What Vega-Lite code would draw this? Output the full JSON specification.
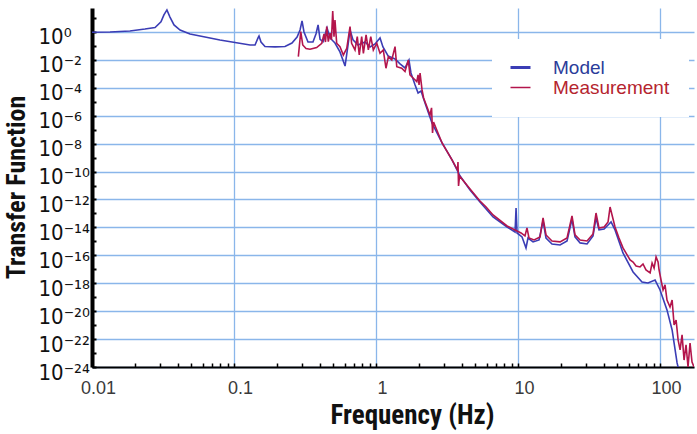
{
  "$schema": "https://vega.github.io/schema/vega-lite/v6.json",
  "width": 602,
  "height": 359,
  "autosize": "none",
  "padding": {"left": 92, "top": 8, "right": 3, "bottom": 67},
  "background": "white",
  "config": {"view": {"stroke": null}},
  "datasets": {
    "model": [
      {"f":0.01,"h":0.955,"s":"Model"},{"f":0.0134,"h":1.0,"s":"Model"},{"f":0.0185,"h":1.175,"s":"Model"},{"f":0.0236,"h":1.62,"s":"Model"},{"f":0.0278,"h":2.09,"s":"Model"},{"f":0.0306,"h":5.25,"s":"Model"},{"f":0.0321,"h":16.6,"s":"Model"},{"f":0.0337,"h":38,"s":"Model"},{"f":0.0354,"h":11.7,"s":"Model"},{"f":0.0378,"h":3.16,"s":"Model"},{"f":0.0417,"h":1.38,"s":"Model"},{"f":0.049,"h":0.724,"s":"Model"},{"f":0.0625,"h":0.437,"s":"Model"},{"f":0.0796,"h":0.269,"s":"Model"},{"f":0.1016,"h":0.178,"s":"Model"},{"f":0.1297,"h":0.117,"s":"Model"},{"f":0.1406,"h":0.117,"s":"Model"},{"f":0.1476,"h":0.372,"s":"Model"},{"f":0.15,"h":0.513,"s":"Model"},{"f":0.1549,"h":0.191,"s":"Model"},{"f":0.1652,"h":0.0912,"s":"Model"},{"f":0.1945,"h":0.0851,"s":"Model"},{"f":0.2286,"h":0.0912,"s":"Model"},{"f":0.2559,"h":0.162,"s":"Model"},{"f":0.278,"h":0.437,"s":"Model"},{"f":0.2917,"h":1.38,"s":"Model"},{"f":0.3013,"h":6.17,"s":"Model"},{"f":0.311,"h":1.0,"s":"Model"},{"f":0.3319,"h":0.19,"s":"Model"},{"f":0.3597,"h":0.19,"s":"Model"},{"f":0.3776,"h":0.724,"s":"Model"},{"f":0.3908,"h":3.16,"s":"Model"},{"f":0.4036,"h":0.3,"s":"Model"},{"f":0.4236,"h":0.2,"s":"Model"},{"f":0.4519,"h":1.95,"s":"Model"},{"f":0.4742,"h":0.372,"s":"Model"},{"f":0.514,"h":0.162,"s":"Model"},{"f":0.5572,"h":0.0372,"s":"Model"},{"f":0.6053,"h":0.00363,"s":"Model"},{"f":0.6353,"h":0.117,"s":"Model"},{"f":0.6561,"h":1.38,"s":"Model"},{"f":0.6887,"h":0.269,"s":"Model"},{"f":0.7464,"h":0.117,"s":"Model"},{"f":0.8375,"h":0.191,"s":"Model"},{"f":0.908,"h":0.0851,"s":"Model"},{"f":0.984,"h":0.138,"s":"Model"},{"f":1.067,"h":0.372,"s":"Model"},{"f":1.119,"h":0.0851,"s":"Model"},{"f":1.216,"h":0.0191,"s":"Model"},{"f":1.361,"h":0.01175,"s":"Model"},{"f":1.476,"h":0.00513,"s":"Model"},{"f":1.6,"h":0.00263,"s":"Model"},{"f":1.706,"h":0.00977,"s":"Model"},{"f":1.762,"h":0.00115,"s":"Model"},{"f":1.884,"h":1.58e-4,"s":"Model"},{"f":1.977,"h":4.27e-5,"s":"Model"},{"f":2.075,"h":5.89e-5,"s":"Model"},{"f":2.213,"h":8.13e-6,"s":"Model"},{"f":2.477,"h":3.02e-7,"s":"Model"},{"f":2.917,"h":1.12e-8,"s":"Model"},{"f":3.428,"h":6.76e-10,"s":"Model"},{"f":3.908,"h":4.79e-11,"s":"Model"},{"f":4.592,"h":4.79e-12,"s":"Model"},{"f":5.395,"h":6.61e-13,"s":"Model"},{"f":6.668,"h":5.62e-14,"s":"Model"},{"f":8.375,"h":1.07e-14,"s":"Model"},{"f":9.528,"h":4.68e-15,"s":"Model"},{"f":9.683,"h":2.45e-13,"s":"Model"},{"f":9.84,"h":3.98e-15,"s":"Model"},{"f":10.67,"h":2.09e-15,"s":"Model"},{"f":11.38,"h":3.39e-16,"s":"Model"},{"f":11.75,"h":1.74e-15,"s":"Model"},{"f":12.76,"h":9.12e-16,"s":"Model"},{"f":14.06,"h":1.26e-15,"s":"Model"},{"f":15.0,"h":2.88e-14,"s":"Model"},{"f":15.74,"h":1.74e-15,"s":"Model"},{"f":17.34,"h":6.46e-16,"s":"Model"},{"f":19.77,"h":5.5e-16,"s":"Model"},{"f":22.13,"h":1.07e-15,"s":"Model"},{"f":23.99,"h":3.98e-14,"s":"Model"},{"f":25.18,"h":2.09e-15,"s":"Model"},{"f":27.35,"h":7.76e-16,"s":"Model"},{"f":30.62,"h":6.46e-16,"s":"Model"},{"f":33.73,"h":2.45e-15,"s":"Model"},{"f":35.4,"h":4.79e-14,"s":"Model"},{"f":37.15,"h":6.61e-15,"s":"Model"},{"f":40.36,"h":7.76e-15,"s":"Model"},{"f":43.05,"h":1.48e-14,"s":"Model"},{"f":45.19,"h":2.45e-14,"s":"Model"},{"f":48.19,"h":6.61e-15,"s":"Model"},{"f":54.83,"h":1.48e-16,"s":"Model"},{"f":64.57,"h":6.46e-18,"s":"Model"},{"f":74.65,"h":1.23e-18,"s":"Model"},{"f":82.22,"h":1.05e-18,"s":"Model"},{"f":92.26,"h":1.7e-18,"s":"Model"},{"f":100,"h":3.31e-19,"s":"Model"},{"f":111.9,"h":1.23e-20,"s":"Model"},{"f":121.6,"h":4.47e-22,"s":"Model"},{"f":131.8,"h":1.95e-24,"s":"Model"},{"f":138.4,"h":2.69e-25,"s":"Model"}
    ],
    "meas": [
      {"f":0.2838,"h":0.017,"s":"Measurement"},{"f":0.2951,"h":1.047,"s":"Measurement"},{"f":0.3048,"h":0.117,"s":"Measurement"},{"f":0.3214,"h":0.0661,"s":"Measurement"},{"f":0.3428,"h":0.0575,"s":"Measurement"},{"f":0.3819,"h":0.0759,"s":"Measurement"},{"f":0.415,"h":0.155,"s":"Measurement"},{"f":0.4305,"h":0.724,"s":"Measurement"},{"f":0.4406,"h":0.191,"s":"Measurement"},{"f":0.4498,"h":2.4,"s":"Measurement"},{"f":0.4613,"h":0.204,"s":"Measurement"},{"f":0.4742,"h":0.813,"s":"Measurement"},{"f":0.4853,"h":0.269,"s":"Measurement"},{"f":0.4955,"h":31.6,"s":"Measurement"},{"f":0.5058,"h":0.457,"s":"Measurement"},{"f":0.514,"h":7.24,"s":"Measurement"},{"f":0.5284,"h":0.155,"s":"Measurement"},{"f":0.5572,"h":0.0891,"s":"Measurement"},{"f":0.5888,"h":0.0224,"s":"Measurement"},{"f":0.6223,"h":0.0676,"s":"Measurement"},{"f":0.6561,"h":2.4,"s":"Measurement"},{"f":0.673,"h":0.155,"s":"Measurement"},{"f":0.7112,"h":0.0513,"s":"Measurement"},{"f":0.7379,"h":0.457,"s":"Measurement"},{"f":0.7621,"h":0.0224,"s":"Measurement"},{"f":0.7925,"h":0.457,"s":"Measurement"},{"f":0.8147,"h":0.0295,"s":"Measurement"},{"f":0.8511,"h":0.617,"s":"Measurement"},{"f":0.8831,"h":0.0513,"s":"Measurement"},{"f":0.9183,"h":0.457,"s":"Measurement"},{"f":0.9572,"h":0.0513,"s":"Measurement"},{"f":1.012,"h":0.155,"s":"Measurement"},{"f":1.067,"h":0.0295,"s":"Measurement"},{"f":1.125,"h":0.0513,"s":"Measurement"},{"f":1.175,"h":0.00251,"s":"Measurement"},{"f":1.222,"h":0.017,"s":"Measurement"},{"f":1.291,"h":0.00977,"s":"Measurement"},{"f":1.361,"h":0.0891,"s":"Measurement"},{"f":1.4,"h":0.00324,"s":"Measurement"},{"f":1.517,"h":0.00251,"s":"Measurement"},{"f":1.6,"h":0.00145,"s":"Measurement"},{"f":1.687,"h":0.00977,"s":"Measurement"},{"f":1.734,"h":8.32e-4,"s":"Measurement"},{"f":1.832,"h":4.79e-4,"s":"Measurement"},{"f":1.936,"h":2.75e-4,"s":"Measurement"},{"f":1.977,"h":8.32e-4,"s":"Measurement"},{"f":2.009,"h":1.58e-4,"s":"Measurement"},{"f":2.042,"h":1.15e-3,"s":"Measurement"},{"f":2.109,"h":7.08e-5,"s":"Measurement"},{"f":2.163,"h":1.86e-5,"s":"Measurement"},{"f":2.286,"h":4.27e-6,"s":"Measurement"},{"f":2.399,"h":1.12e-6,"s":"Measurement"},{"f":2.46,"h":3.63e-6,"s":"Measurement"},{"f":2.5,"h":5.89e-8,"s":"Measurement"},{"f":2.541,"h":3.55e-7,"s":"Measurement"},{"f":2.917,"h":1.12e-8,"s":"Measurement"},{"f":3.428,"h":6.76e-10,"s":"Measurement"},{"f":3.75,"h":1.29e-10,"s":"Measurement"},{"f":3.776,"h":4.9e-10,"s":"Measurement"},{"f":3.811,"h":9.33e-12,"s":"Measurement"},{"f":3.873,"h":4.79e-11,"s":"Measurement"},{"f":4.592,"h":5.62e-12,"s":"Measurement"},{"f":5.395,"h":7.76e-13,"s":"Measurement"},{"f":5.957,"h":2.88e-13,"s":"Measurement"},{"f":6.668,"h":7.76e-14,"s":"Measurement"},{"f":8.375,"h":1.26e-14,"s":"Measurement"},{"f":9.528,"h":6.61e-15,"s":"Measurement"},{"f":10.5,"h":3.98e-15,"s":"Measurement"},{"f":11.19,"h":2.45e-15,"s":"Measurement"},{"f":11.56,"h":9.12e-15,"s":"Measurement"},{"f":11.94,"h":1.74e-15,"s":"Measurement"},{"f":12.97,"h":1.26e-15,"s":"Measurement"},{"f":14.29,"h":2.09e-15,"s":"Measurement"},{"f":15.0,"h":4.79e-14,"s":"Measurement"},{"f":15.74,"h":2.88e-15,"s":"Measurement"},{"f":17.34,"h":1.07e-15,"s":"Measurement"},{"f":19.77,"h":9.12e-16,"s":"Measurement"},{"f":22.13,"h":1.74e-15,"s":"Measurement"},{"f":23.99,"h":6.61e-14,"s":"Measurement"},{"f":25.18,"h":2.88e-15,"s":"Measurement"},{"f":27.35,"h":1.26e-15,"s":"Measurement"},{"f":30.62,"h":1.07e-15,"s":"Measurement"},{"f":33.73,"h":3.39e-15,"s":"Measurement"},{"f":35.4,"h":1.07e-13,"s":"Measurement"},{"f":37.15,"h":9.12e-15,"s":"Measurement"},{"f":40.36,"h":1.07e-14,"s":"Measurement"},{"f":43.05,"h":2.45e-14,"s":"Measurement"},{"f":44.46,"h":2.88e-13,"s":"Measurement"},{"f":45.92,"h":7.76e-14,"s":"Measurement"},{"f":48.19,"h":1.07e-14,"s":"Measurement"},{"f":51.4,"h":1.74e-15,"s":"Measurement"},{"f":54.83,"h":3.39e-16,"s":"Measurement"},{"f":58.61,"h":1.07e-16,"s":"Measurement"},{"f":61.52,"h":4.68e-17,"s":"Measurement"},{"f":64.57,"h":3.31e-17,"s":"Measurement"},{"f":67.76,"h":1.74e-17,"s":"Measurement"},{"f":72.28,"h":1.48e-17,"s":"Measurement"},{"f":75.86,"h":2.4e-17,"s":"Measurement"},{"f":79.62,"h":8.91e-18,"s":"Measurement"},{"f":85.11,"h":5.5e-18,"s":"Measurement"},{"f":87.9,"h":2.82e-17,"s":"Measurement"},{"f":90.78,"h":1.23e-17,"s":"Measurement"},{"f":93.76,"h":7.59e-17,"s":"Measurement"},{"f":96.83,"h":3.31e-17,"s":"Measurement"},{"f":98.4,"h":8.91e-18,"s":"Measurement"},{"f":101.6,"h":1.7e-18,"s":"Measurement"},{"f":105.0,"h":3.31e-19,"s":"Measurement"},{"f":108.4,"h":7.59e-19,"s":"Measurement"},{"f":111.9,"h":6.31e-20,"s":"Measurement"},{"f":117.5,"h":2e-20,"s":"Measurement"},{"f":121.6,"h":6.31e-20,"s":"Measurement"},{"f":125.6,"h":1.02e-21,"s":"Measurement"},{"f":129.7,"h":2.34e-21,"s":"Measurement"},{"f":134.0,"h":8.71e-23,"s":"Measurement"},{"f":138.4,"h":1.66e-23,"s":"Measurement"},{"f":142.9,"h":2e-22,"s":"Measurement"},{"f":147.6,"h":3.16e-24,"s":"Measurement"},{"f":152.4,"h":3.8e-23,"s":"Measurement"},{"f":157.4,"h":1e-24,"s":"Measurement"},{"f":162.6,"h":5.25e-23,"s":"Measurement"},{"f":167.9,"h":2.29e-24,"s":"Measurement"},{"f":173.4,"h":1e-24,"s":"Measurement"}
    ]
  },
  "encoding": {
    "x": {
      "field": "f", "type": "quantitative",
      "scale": {"type": "log", "domain": [0.01, 173.4], "nice": false},
      "axis": {
        "values": [0.01,0.02,0.03,0.04,0.05,0.06,0.07,0.08,0.09,0.1,0.2,0.3,0.4,0.5,0.6,0.7,0.8,0.9,1,2,3,4,5,6,7,8,9,10,20,30,40,50,60,70,80,90,100],
        "title": "Frequency (Hz)",
        "titleFont": "Liberation Sans Narrow, Roboto Condensed, Liberation Sans",
        "titleFontSize": 27, "titleFontWeight": "bold", "titleColor": "#111111",
        "titleX": 320, "titleY": 56, "titleBaseline": "alphabetic", "titleAlign": "center", "titleAnchor": "start",
        "labelExpr": "indexof([0.01,0.1,1,10,100], datum.value) >= 0 ? format(datum.value, '~g') : ''",
        "labelFont": "Liberation Sans", "labelFontSize": 18, "labelColor": "#3a3a3a",
        "labelOffset": 6, "labelPadding": 25, "labelBaseline": "middle",
        "labelFlush": false, "labelOverlap": false, "labelBound": false,
        "tickSize": -4, "tickColor": "black", "tickWidth": 1.5,
        "domainColor": "black", "domainWidth": 2,
        "grid": true, "gridColor": "#8ab6ea", "gridWidth": 1.3,
        "gridOpacity": {"condition": {"test": "indexof([0.1,1,10,100], datum.value) >= 0", "value": 1}, "value": 0}
      }
    },
    "y": {
      "field": "h", "type": "quantitative",
      "scale": {"type": "log", "domain": [1e-24, 52], "nice": false},
      "axis": {
        "values": [10,1,0.1,0.01,1e-3,1e-4,1e-5,1e-6,1e-7,1e-8,1e-9,1e-10,1e-11,1e-12,1e-13,1e-14,1e-15,1e-16,1e-17,1e-18,1e-19,1e-20,1e-21,1e-22,1e-23,1e-24],
        "title": "Transfer Function",
        "titleFont": "Liberation Sans Narrow, Roboto Condensed, Liberation Sans",
        "titleFontSize": 26, "titleFontWeight": "bold", "titleColor": "#111111",
        "titleAngle": -90, "titleX": -76, "titleY": 179, "titleAlign": "center", "titleBaseline": "middle", "titleAnchor": "start",
        "labelExpr": "round(log(datum.value)/LN10) % 2 == 0 ? '10' + replace(replace(replace(replace(replace(replace(replace('' + round(log(datum.value)/LN10), regexp('-','g'), '⁻'), regexp('0','g'), '⁰'), regexp('1','g'), '¹'), regexp('2','g'), '²'), regexp('4','g'), '⁴'), regexp('6','g'), '⁶'), regexp('8','g'), '⁸') : ''",
        "labelFont": "DejaVu Sans Condensed, DejaVu Sans", "labelFontSize": 22, "labelColor": "#111111",
        "labelAlign": "left", "labelBaseline": "middle", "labelPadding": 58, "labelOffset": 5,
        "labelFlush": false, "labelOverlap": false, "labelBound": false,
        "tickSize": -4, "tickColor": "black", "tickWidth": 2,
        "domainColor": "black", "domainWidth": 4,
        "grid": true, "gridColor": "#8ab6ea", "gridWidth": 1.3,
        "gridOpacity": {"condition": {"test": "round(log(datum.value)/LN10) % 2 == 0", "value": 1}, "value": 0}
      }
    },
    "color": {
      "field": "s", "type": "nominal",
      "scale": {"domain": ["Model", "Measurement"], "range": ["#3b3db5", "#b3154c"]},
      "legend": {
        "title": null, "orient": "none", "legendX": 400, "legendY": 31,
        "padding": 19, "fillColor": "white", "strokeColor": null,
        "symbolType": "stroke", "symbolSize": 400, "symbolStrokeWidth": 3,
        "labelFont": "Liberation Sans", "labelFontSize": 19, "labelOffset": 23, "rowPadding": 0,
        "encode": {
          "symbols": {"update": {
            "stroke": {"signal": "datum.value === 'Model' ? '#1f2db3' : '#d0607e'"},
            "strokeWidth": {"signal": "datum.value === 'Model' ? 3 : 1.5"}
          }},
          "labels": {"update": {
            "fill": {"signal": "datum.value === 'Model' ? '#2b3c9a' : '#b5242e'"}
          }}
        }
      }
    }
  },
  "layer": [
    {"data": {"name": "model"}, "mark": {"type": "line", "clip": true, "strokeWidth": 1.6}},
    {"data": {"name": "meas"}, "mark": {"type": "line", "clip": true, "strokeWidth": 1.6}}
  ]
}
